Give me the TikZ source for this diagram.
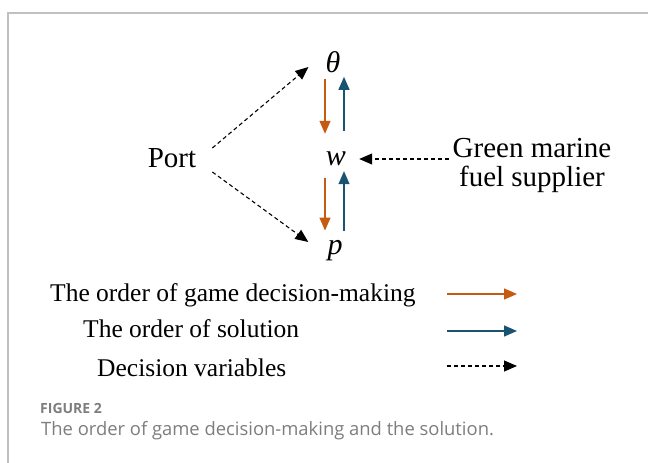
\documentclass[tikz,border=0pt]{standalone}
\usepackage{fontspec}
\setmainfont{Liberation Serif}
\newfontfamily\captionfont{Open Sans}
\usetikzlibrary{arrows.meta}

\definecolor{gameorange}{RGB}{197,90,17}
\definecolor{solveblue}{RGB}{24,84,114}
\definecolor{framegray}{RGB}{192,192,192}
\definecolor{captiongray}{RGB}{125,125,125}

\begin{document}
\begin{tikzpicture}
	[x=1pt,y=1pt,every node/.style={inner sep=0pt},
	var/.style={font=\fontsize{30}{30}\selectfont\itshape},
	player/.style={font=\fontsize{29}{29}\selectfont,align=center},
	legendtext/.style={font=\fontsize{25.5}{25.5}\selectfont,anchor=base west},
	game/.style={-{Triangle[length=13pt,width=11pt]},line width=1.4pt,draw=gameorange},
	solve/.style={-{Triangle[length=13pt,width=11pt]},line width=1.4pt,draw=solveblue},
	decision/.style={-{Triangle[length=13pt,width=11pt]},line width=1.1pt,dash pattern=on 4pt off 3pt}]
	\useasboundingbox (0,0) rectangle (648,463);
	\draw[framegray,line width=1.2pt] (8,0) -- (8,450) -- (648,450);

	\node[player] (port) at (172,305) {Port};
	\node[player,anchor=north] (supplier) at (532,325) {Green marine\\fuel supplier};
	\node[var] (theta) at (333,401) {θ};
	\node[var] (w) at (336,304) {w};
	\node[var] (p) at (335,212) {p};

	\draw[game] ([xshift=-8pt,yshift=-6pt]theta.south) -- ([xshift=-11pt,yshift=18pt]w.north);
	\draw[solve] ([xshift=8pt,yshift=21pt]w.north) -- ([xshift=11pt,yshift=-4pt]theta.south);
	\draw[game] ([xshift=-11pt,yshift=-12pt]w.south) -- ([xshift=-10pt,yshift=10pt]p.north);
	\draw[solve] ([xshift=9pt,yshift=10pt]p.north) -- ([xshift=8pt,yshift=-5pt]w.south);

	\draw[decision] ([xshift=16pt,yshift=10pt]port.east) -- ([xshift=-17pt,yshift=-5pt]theta.west);
	\draw[decision] ([xshift=16pt,yshift=-14pt]port.east) -- ([xshift=-19pt,yshift=9pt]p.west);
	\draw[decision] ([xshift=-4pt]supplier.west |- w) -- ([xshift=13pt]w.east);

	% legend
	\node[legendtext] (lgame) at (50,161) {The order of game decision-making};
	\node[legendtext] (lsolve) at (83,125) {The order of solution};
	\node[legendtext] (ldecision) at (97,86) {Decision variables};
	\coordinate (agame) at (447,169);
	\coordinate (asolve) at (447,132);
	\coordinate (adecision) at (447,97);
	\draw[game] (agame) -- ++(70,0);
	\draw[solve] (asolve) -- ++(70,0);
	\draw[decision] (adecision) -- ++(70,0);

	\node[anchor=base west,font=\captionfont\bfseries\fontsize{14}{14}\selectfont,text=captiongray] (fig) at (40,49) {FIGURE 2};
	\node[anchor=base west,font=\captionfont\fontsize{18.4}{18.4}\selectfont,text=captiongray] (caption) at (41,27.3) {The order of game decision-making and the solution.};
\end{tikzpicture}
\end{document}
